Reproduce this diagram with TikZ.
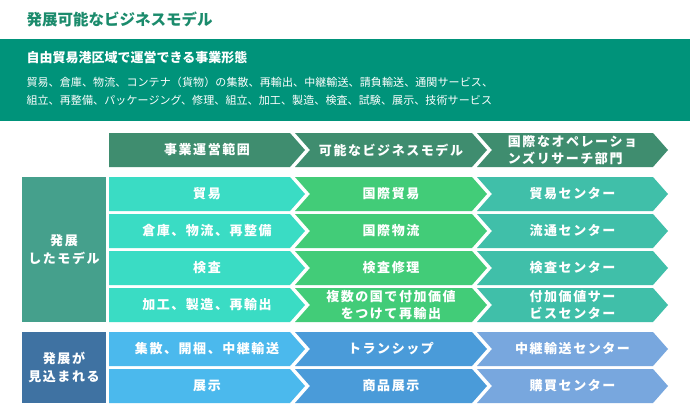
\documentclass[tikz,border=0pt]{standalone}
\usepackage{fontspec}
\setmainfont{Noto Sans CJK JP}
\newfontfamily\cellfont{Noto Sans CJK JP}[LetterSpace=12]
\newfontfamily\bandfont{Noto Sans CJK JP}[LetterSpace=1]

\definecolor{titlegreen}{HTML}{1B8B6C}
\definecolor{bandgreen}{HTML}{00937A}
\definecolor{headgreen}{HTML}{3F8D6F}
\definecolor{turq}{HTML}{3ADCC4}
\definecolor{leafgreen}{HTML}{42CC78}
\definecolor{seagreen}{HTML}{40BFA9}
\definecolor{sidegreen}{HTML}{45A08C}
\definecolor{skyblue}{HTML}{4BB9ED}
\definecolor{midblue}{HTML}{4A9BD9}
\definecolor{paleblue}{HTML}{78A7DE}
\definecolor{sideblue}{HTML}{3F72A2}

\begin{document}
\begin{tikzpicture}[
    x=1pt, y=-1pt,
    flat/.style={insert path={++(0,-17) -- ++(#1,0) -- ++(15,17) -- ++(-15,17) -- ++(-#1,0) -- cycle}},
    notch/.style={insert path={++(0,-17) -- ++(#1,0) -- ++(15,17) -- ++(-15,17) -- ++(-#1,0) -- ++(15,-17) -- cycle}},
    label/.style={inner sep=0pt, text=white, align=center, font=\cellfont\bfseries\fontsize{13}{16.5}\selectfont},
    side/.style={rectangle, minimum width=84pt, inner sep=0pt, text=white, align=center, font=\cellfont\bfseries\fontsize{13}{18}\selectfont}
  ]

    % Canvas
    \fill[white] (0,0) rectangle (690,415);

    % Title
    \node[anchor=west, text=titlegreen, font=\bfseries\fontsize{15.5}{18}\selectfont] (title) at (23,19) {発展可能なビジネスモデル};

    % Band - business forms
    \fill[bandgreen] (0,39) rectangle (690,121);
    \node[anchor=west, text=white, font=\bfseries\fontsize{13}{16}\selectfont] (bandhead) at (23,57.5) {自由貿易港区域で運営できる事業形態};
    \node[anchor=west, text=white, font=\bandfont\fontsize{11}{14}\selectfont] (bandline1) at (23,82) {貿易、倉庫、物流、コンテナ（貨物）の集散、再輸出、中継輸送、請負輸送、通関サービス、};
    \node[anchor=west, text=white, font=\bandfont\fontsize{11}{14}\selectfont] (bandline2) at (23,100.5) {組立、再整備、パッケージング、修理、組立、加工、製造、検査、試験、展示、技術サービス};

    % Header row
    \fill[headgreen] (109,150) [flat=181];
    \fill[headgreen] (295,150) [notch=177];
    \fill[headgreen] (477,150) [notch=176];
    \node[label] (hscope) at (207,150) {事業運営範囲};
    \node[label] (hmodel) at (391,150) {可能なビジネスモデル};
    \node[label, align=left] (hdept) at (572.5,150) {国際なオペレーショ\\ンズリサーチ部門};

    % Developed models
    \node[side, fill=sidegreen, minimum height=145pt] (grpdone) at (64,249.5) {発展\\したモデル};

    \fill[turq] (109,194) [flat=181];
    \fill[leafgreen] (295,194) [notch=177];
    \fill[seagreen] (477,194) [notch=176];
    \node[label] (trade) at (207,194) {貿易};
    \node[label] (itrade) at (391,194) {国際貿易};
    \node[label] (ctrade) at (572.5,194) {貿易センター};

    \fill[turq] (109,231) [flat=181];
    \fill[leafgreen] (295,231) [notch=177];
    \fill[seagreen] (477,231) [notch=176];
    \node[label] (store) at (207,231) {倉庫、物流、再整備};
    \node[label] (ilogi) at (391,231) {国際物流};
    \node[label] (clogi) at (572.5,231) {流通センター};

    \fill[turq] (109,268) [flat=181];
    \fill[leafgreen] (295,268) [notch=177];
    \fill[seagreen] (477,268) [notch=176];
    \node[label] (inspect) at (207,268) {検査};
    \node[label] (repair) at (391,268) {検査修理};
    \node[label] (cinspect) at (572.5,268) {検査センター};

    \fill[turq] (109,305) [flat=181];
    \fill[leafgreen] (295,305) [notch=177];
    \fill[seagreen] (477,305) [notch=176];
    \node[label] (process) at (207,305) {加工、製造、再輸出};
    \node[label] (reexport) at (391,305) {複数の国で付加価値\\をつけて再輸出};
    \node[label] (cvalue) at (572.5,305) {付加価値サー\\ビスセンター};

    % Expected models
    \node[side, fill=sideblue, minimum height=71pt] (grpnext) at (64,367.5) {発展が\\見込まれる};

    \fill[skyblue] (109,349) [flat=181];
    \fill[midblue] (295,349) [notch=177];
    \fill[paleblue] (477,349) [notch=176];
    \node[label] (transit) at (207,349) {集散、開梱、中継輸送};
    \node[label] (tranship) at (391,349) {トランシップ};
    \node[label] (ctransit) at (572.5,349) {中継輸送センター};

    \fill[skyblue] (109,386) [flat=181];
    \fill[midblue] (295,386) [notch=177];
    \fill[paleblue] (477,386) [notch=176];
    \node[label] (show) at (207,386) {展示};
    \node[label] (goods) at (391,386) {商品展示};
    \node[label] (cbuy) at (572.5,386) {購買センター};

  \end{tikzpicture}
\end{document}
